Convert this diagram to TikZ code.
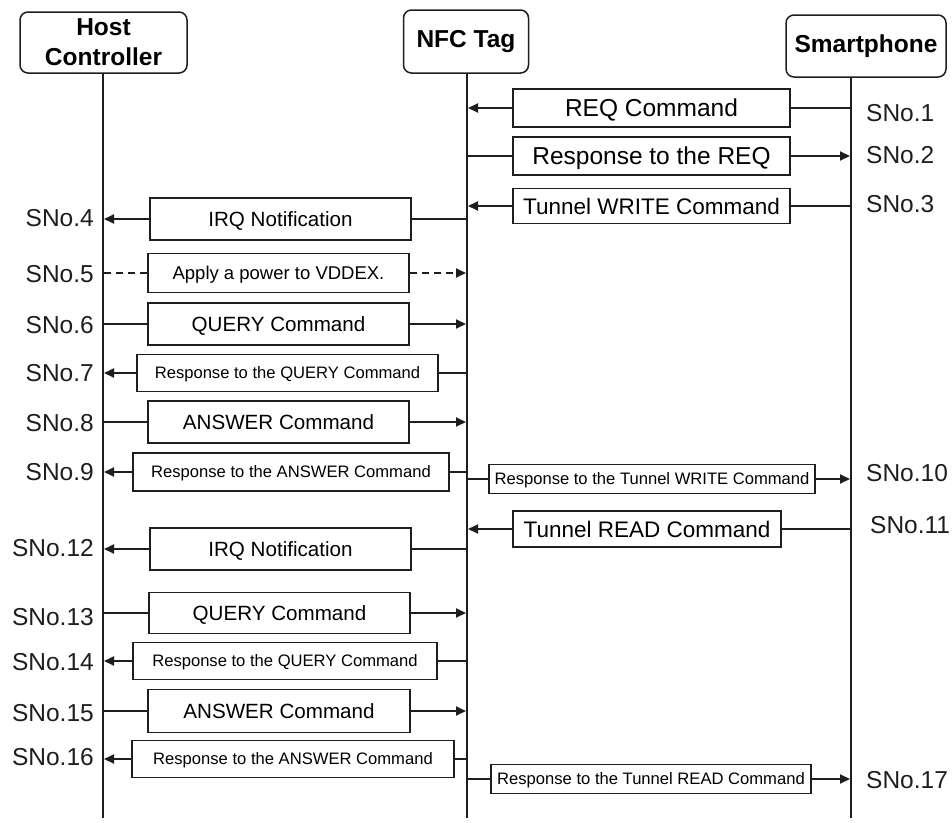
\documentclass[tikz,border=0pt]{standalone}
\usepackage{fontspec}
\setmainfont{Liberation Sans}
\usetikzlibrary{arrows.meta}

\definecolor{ink}{HTML}{1E1E1E}

\begin{document}
\begin{tikzpicture}[x=1pt,y=-1pt,
  head/.style={draw=ink, line width=1.5pt, rounded corners=8pt, fill=white,
    font=\fontsize{24.5}{30}\selectfont\bfseries, align=center, inner sep=0pt},
  msgbox/.style={draw=ink, line width=1.5pt, fill=white, inner sep=0pt, text depth=0pt},
  % text sizes of the message boxes; text height = cap height so caps sit centred
  fBig/.style={font=\fontsize{24.5}{29}\selectfont, text height=17.5pt},
  fTun/.style={font=\fontsize{22.5}{27}\selectfont, text height=16.1pt},
  fMid/.style={font=\fontsize{20.6}{25}\selectfont, text height=14.75pt},
  fPow/.style={font=\fontsize{18.5}{22}\selectfont, text height=13.25pt},
  fSmall/.style={font=\fontsize{16.6}{20}\selectfont, text height=11.9pt},
  lifeline/.style={draw=ink},
  link/.style={draw=ink, line width=1.8pt},
  tip/.style={-{Triangle[length=10pt,width=9pt]}, shorten >=1pt},
  powerlink/.style={link, dash pattern=on 7pt off 5pt},
  lbl/.style={font=\fontsize{24.5}{29}\selectfont, inner sep=0pt, text=ink},
  lbll/.style={lbl, anchor=east},
  lblr/.style={lbl, anchor=west}]

\useasboundingbox (0,0) rectangle (952,822);

% lifeline positions
\coordinate (H) at (103,0);
\coordinate (N) at (467,0);
\coordinate (S) at (851,0);
\coordinate (bot) at (0,818);

% participants
\node[head, minimum width=167pt, minimum height=61pt] (host) at (103.5,42.5) {Host\\Controller};
\node[head, minimum width=125pt, minimum height=63pt] (tag) at (466,41.5) {NFC Tag};
\node[head, minimum width=160pt, minimum height=62pt] (phone) at (866,46) {Smartphone};

\draw[lifeline, line width=1.8pt] (H |- host.south) -- (H |- bot);
\draw[lifeline, line width=2.2pt] (N |- tag.south) -- (N |- bot);
\draw[lifeline, line width=2.6pt] (S |- phone.south) -- (S |- bot);

% message boxes
\node[msgbox, fBig, minimum width=277pt, minimum height=38pt] (m1) at (651.5,108) {REQ Command};
\node[msgbox, fBig, minimum width=277pt, minimum height=38pt] (m2) at (651.5,156) {Response to the REQ};
\node[msgbox, fTun, minimum width=277pt, minimum height=35pt] (m3) at (651.5,206) {Tunnel WRITE Command};
\node[msgbox, fMid, minimum width=261pt, minimum height=42pt] (m4) at (280.5,219) {IRQ Notification};
\node[msgbox, fPow, minimum width=261pt, minimum height=39pt] (m5) at (278.5,273) {Apply a power to VDDEX.};
\node[msgbox, fMid, minimum width=261pt, minimum height=42pt] (m6) at (278.5,324) {QUERY Command};
\node[msgbox, fSmall, minimum width=301pt, minimum height=37pt] (m7) at (287.5,373) {Response to the QUERY Command};
\node[msgbox, fMid, minimum width=261pt, minimum height=42pt] (m8) at (278.5,422) {ANSWER Command};
\node[msgbox, fSmall, minimum width=316pt, minimum height=38pt] (m9) at (291,472) {Response to the ANSWER Command};
\node[msgbox, fSmall, minimum width=326pt, minimum height=29pt] (m10) at (652,479) {Response to the Tunnel WRITE Command};
\node[msgbox, fTun, minimum width=268pt, minimum height=36pt] (m11) at (647,529) {Tunnel READ Command};
\node[msgbox, fMid, minimum width=261pt, minimum height=42pt] (m12) at (280.5,549) {IRQ Notification};
\node[msgbox, fMid, minimum width=261pt, minimum height=41pt] (m13) at (279.5,613) {QUERY Command};
\node[msgbox, fSmall, minimum width=304pt, minimum height=37pt] (m14) at (285,661) {Response to the QUERY Command};
\node[msgbox, fMid, minimum width=262pt, minimum height=43pt] (m15) at (279,711) {ANSWER Command};
\node[msgbox, fSmall, minimum width=322pt, minimum height=37pt] (m16) at (293,759) {Response to the ANSWER Command};
\node[msgbox, fSmall, minimum width=320pt, minimum height=29pt] (m17) at (651,779) {Response to the Tunnel READ Command};

% smartphone -> tag
\foreach \m in {m1,m3,m11}{
  \draw[link] (\m.east) -- (\m.east -| S);
  \draw[link, tip] (\m.west) -- (\m.west -| N);
}
% tag -> smartphone
\foreach \m in {m2,m10,m17}{
  \draw[link] (\m.west) -- (\m.west -| N);
  \draw[link, tip] (\m.east) -- (\m.east -| S);
}
% tag -> host
\foreach \m in {m4,m7,m9,m12,m14,m16}{
  \draw[link] (\m.east) -- (\m.east -| N);
  \draw[link, tip] (\m.west) -- (\m.west -| H);
}
% host -> tag
\foreach \m in {m6,m8,m13,m15}{
  \draw[link] (\m.west) -- (\m.west -| H);
  \draw[link, tip] (\m.east) -- (\m.east -| N);
}
% power supply step (dashed)
\draw[powerlink] (m5.west) -- (m5.west -| H);
\draw[powerlink, tip] (m5.east) -- (m5.east -| N);

% step numbers
\node[lblr] (s1) at (866,113) {SNo.1};
\node[lblr] (s2) at (866,155) {SNo.2};
\node[lblr] (s3) at (866,204) {SNo.3};
\node[lbll] (s4) at (94,218) {SNo.4};
\node[lbll] (s5) at (94,274) {SNo.5};
\node[lbll] (s6) at (94,325) {SNo.6};
\node[lbll] (s7) at (94,373) {SNo.7};
\node[lbll] (s8) at (94,423) {SNo.8};
\node[lbll] (s9) at (94,472) {SNo.9};
\node[lblr] (s10) at (866,473) {SNo.10};
\node[lblr] (s11) at (870,525) {SNo.11};
\node[lbll] (s12) at (94,548) {SNo.12};
\node[lbll] (s13) at (94,617) {SNo.13};
\node[lbll] (s14) at (94,662) {SNo.14};
\node[lbll] (s15) at (94,713) {SNo.15};
\node[lbll] (s16) at (94,757) {SNo.16};
\node[lblr] (s17) at (866,780) {SNo.17};
\end{tikzpicture}
\end{document}
